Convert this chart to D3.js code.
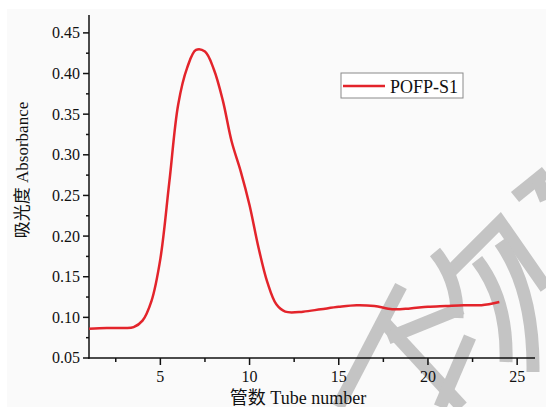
<!DOCTYPE html>
<html>
<head>
<meta charset="utf-8">
<script src="https://cdn.jsdelivr.net/npm/d3@7"></script>
<style>
  html, body { margin: 0; padding: 0; background: #ffffff; }
  svg { display: block; }
  text { font-family: "Liberation Serif", "Times New Roman", "Noto Sans CJK SC", serif; fill: #111; }
</style>
</head>
<body>
<svg id="chart" width="546" height="407"></svg>
<script>
// ---- data ----
const tubes = [1, 2, 3, 3.5, 4, 4.5, 5, 5.5, 6, 6.5, 7, 7.5, 8, 8.5, 9, 9.5, 10, 10.5, 11, 11.5, 12, 13, 14, 15, 16, 17, 18, 19, 20, 21, 22, 23, 24];
const absorbance = [0.086, 0.087, 0.087, 0.088, 0.096, 0.120, 0.172, 0.266, 0.362, 0.407, 0.429, 0.427, 0.405, 0.367, 0.316, 0.280, 0.238, 0.186, 0.143, 0.116, 0.107, 0.107, 0.110, 0.113, 0.115, 0.114, 0.110, 0.111, 0.113, 0.114, 0.115, 0.115, 0.119];
const seriesName = "POFP-S1";
const xTicks = [5, 10, 15, 20, 25];
const xMinorTicks = [2.5, 7.5, 12.5, 17.5, 22.5];
const yTicks = [0.05, 0.10, 0.15, 0.20, 0.25, 0.30, 0.35, 0.40, 0.45];
const yMinorTicks = [0.075, 0.125, 0.175, 0.225, 0.275, 0.325, 0.375, 0.425];
const xTitle = "管数 Tube number";
const yTitle = "吸光度 Absorbance";

// ---- layout ----
const svg = d3.select("#chart");
const x = d3.scaleLinear().domain([1, 26]).range([89, 535]);
const y = d3.scaleLinear().domain([0.05, 0.472]).range([358, 15]);

// background panel
svg.append("rect").attr("x", 7).attr("y", 9).attr("width", 539).attr("height", 398).attr("fill", "#fafafa");

// watermark (gray strokes)
const wm = svg.append("g").attr("fill", "none").attr("stroke", "#c4c4c4").attr("stroke-width", 13)
  .attr("stroke-linejoin", "miter");
const wmPaths = [
  "M515,197 L546,172",
  "M537,178 L546,200",
  "M450,272 L500,222 L546,288",
  "M500,242 Q534,290 533,372",
  "M477,260 Q508,300 506,362",
  "M435,252 Q458,280 457,318",
  "M401,286 L338,407",
  "M380,318 L462,407",
  "M388,338 L462,308",
  "M470,337 L440,407"
];
wmPaths.forEach(p => wm.append("path").attr("d", p));

// axes
const axisG = svg.append("g").attr("stroke", "#111").attr("stroke-width", 1.5);
axisG.append("line").attr("x1", 89).attr("x2", 89).attr("y1", 15).attr("y2", 358.75);
axisG.append("line").attr("x1", 88.25).attr("x2", 535).attr("y1", 358).attr("y2", 358);

// x ticks
svg.append("g").selectAll("line").data(xTicks).join("line")
  .attr("x1", d => x(d)).attr("x2", d => x(d)).attr("y1", 358).attr("y2", 365)
  .attr("stroke", "#111").attr("stroke-width", 1.5);
svg.append("g").selectAll("line").data(xMinorTicks).join("line")
  .attr("x1", d => x(d)).attr("x2", d => x(d)).attr("y1", 358).attr("y2", 362)
  .attr("stroke", "#111").attr("stroke-width", 1.5);
svg.append("g").selectAll("text").data(xTicks).join("text")
  .attr("x", d => x(d)).attr("y", 382).attr("text-anchor", "middle")
  .attr("font-size", 16).text(d => d);

// y ticks
svg.append("g").selectAll("line").data(yTicks).join("line")
  .attr("x1", 83).attr("x2", 89).attr("y1", d => y(d)).attr("y2", d => y(d))
  .attr("stroke", "#111").attr("stroke-width", 1.5);
svg.append("g").selectAll("line").data(yMinorTicks).join("line")
  .attr("x1", 86).attr("x2", 89).attr("y1", d => y(d)).attr("y2", d => y(d))
  .attr("stroke", "#111").attr("stroke-width", 1.5);
svg.append("g").selectAll("text").data(yTicks).join("text")
  .attr("x", 80).attr("y", d => y(d)).attr("dy", "0.34em").attr("text-anchor", "end")
  .attr("font-size", 16).text(d => d.toFixed(2));

// axis titles
svg.append("text").attr("x", 298).attr("y", 404).attr("text-anchor", "middle")
  .attr("font-size", 18).text(xTitle);
svg.append("text").attr("transform", "translate(28,170) rotate(-90)").attr("text-anchor", "middle")
  .attr("font-size", 17).text(yTitle);

// curve
const line = d3.line().x((d, i) => x(tubes[i])).y(d => y(d)).curve(d3.curveCatmullRom.alpha(0.5));
svg.append("path").datum(absorbance).attr("d", line)
  .attr("fill", "none").attr("stroke", "#e3242b").attr("stroke-width", 2.5);

// legend
svg.append("rect").attr("x", 341).attr("y", 73).attr("width", 122).attr("height", 25)
  .attr("fill", "#ffffff").attr("stroke", "#8a8a8a").attr("stroke-width", 1);
svg.append("line").attr("x1", 343).attr("x2", 385).attr("y1", 86).attr("y2", 86)
  .attr("stroke", "#e3242b").attr("stroke-width", 2.5);
svg.append("text").attr("x", 390).attr("y", 92.5).attr("font-size", 18).text(seriesName);
</script>
</body>
</html>
